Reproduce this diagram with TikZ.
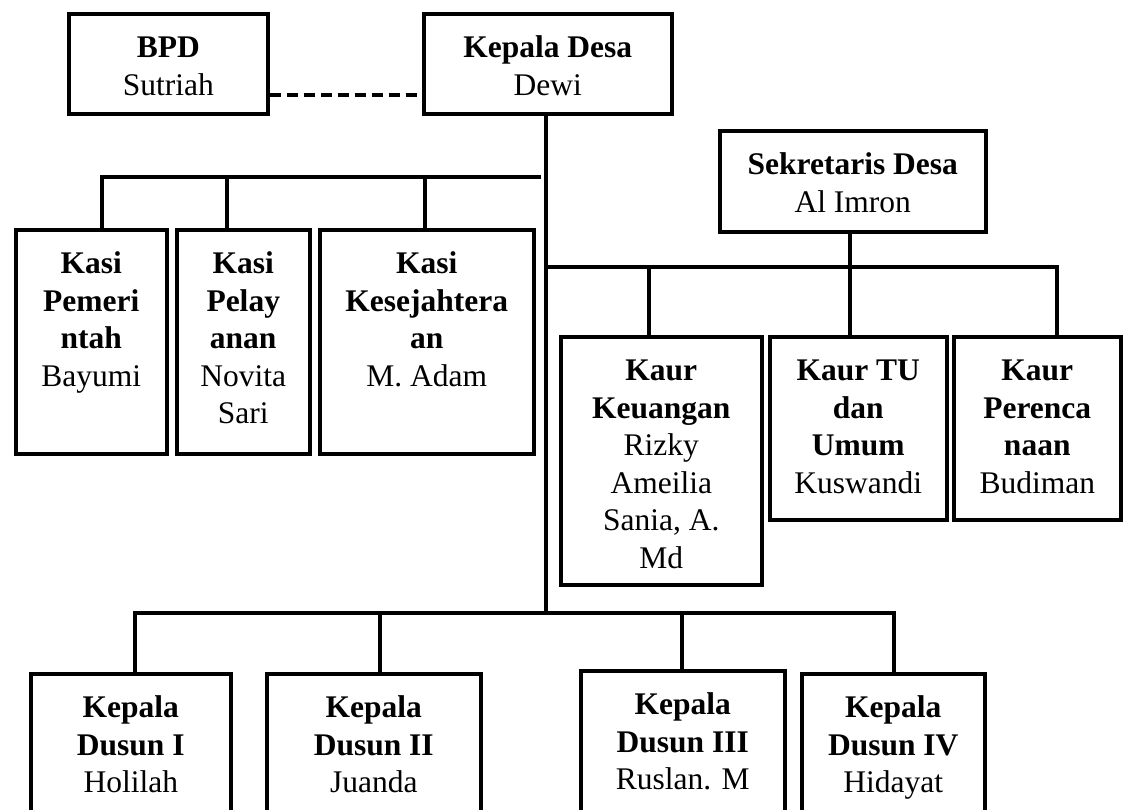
\documentclass[tikz,border=0pt]{standalone}
\usepackage{fontspec}
\setmainfont{Liberation Serif}
\newcommand{\bt}[3]{\parbox[c][#2][t]{#1}{\centering\fontsize{31.5pt}{37.5pt}\selectfont\rule{0pt}{44pt}#3}}
\tikzset{
  orgbox/.style={draw, line width=3.5pt, inner sep=0pt, anchor=north west},
  conn/.style={line width=3.4pt, line join=miter},
  dconn/.style={line width=3.4pt, dash pattern=on 11pt off 6pt}
}
\begin{document}
\begin{tikzpicture}[x=1pt,y=-1pt]
\useasboundingbox (0,0) rectangle (1125,809);
\clip (0,0) rectangle (1125,809);
% top
\node[orgbox] (bpd) at (67,12) {\bt{199pt}{100pt}{\textbf{BPD}\\Sutriah}};
\node[orgbox] (kd) at (422,12) {\bt{248pt}{100pt}{\textbf{Kepala Desa}\\Dewi}};
\node[orgbox] (sek) at (718,129) {\bt{266pt}{101pt}{\textbf{Sekretaris Desa}\\Al Imron}};
% kasi
\node[orgbox] (k1) at (14,228) {\bt{151pt}{224pt}{\textbf{Kasi}\\\textbf{Pemeri}\\\textbf{ntah}\\Bayumi}};
\node[orgbox] (k2) at (175,228) {\bt{133pt}{224pt}{\textbf{Kasi}\\\textbf{Pelay}\\\textbf{anan}\\Novita\\Sari}};
\node[orgbox] (k3) at (318,228) {\bt{214pt}{224pt}{\textbf{Kasi}\\\textbf{Kesejahtera}\\\textbf{an}\\M. Adam}};
% kaur
\node[orgbox] (ku) at (559,335) {\bt{201pt}{248pt}{\textbf{Kaur}\\\textbf{Keuangan}\\Rizky\\Ameilia\\Sania, A.\\Md}};
\node[orgbox] (tu) at (768,335) {\bt{177pt}{183pt}{\textbf{Kaur TU}\\\textbf{dan}\\\textbf{Umum}\\Kuswandi}};
\node[orgbox] (per) at (952,335) {\bt{167pt}{183pt}{\textbf{Kaur}\\\textbf{Perenca}\\\textbf{naan}\\Budiman}};
% dusun
\node[orgbox] (du1) at (29,672) {\bt{200pt}{178pt}{\textbf{Kepala}\\\textbf{Dusun I}\\Holilah}};
\node[orgbox] (du2) at (265,672) {\bt{214pt}{178pt}{\textbf{Kepala}\\\textbf{Dusun II}\\Juanda}};
\node[orgbox] (du3) at (579,669) {\bt{204pt}{181pt}{\textbf{Kepala}\\\textbf{Dusun III}\\Ruslan. M}};
\node[orgbox] (du4) at (800,672) {\bt{183pt}{178pt}{\textbf{Kepala}\\\textbf{Dusun IV}\\Hidayat}};
% junction coordinates
\coordinate (dy) at (0,95);
\coordinate (mb) at (546,613);
\coordinate (j1) at (102,177);
\coordinate (j2) at (227,177);
\coordinate (j3) at (425,177);
\coordinate (jR) at (541,177);
\coordinate (r0) at (546,267);
\coordinate (r1) at (649,267);
\coordinate (r2) at (850,267);
\coordinate (r3) at (1057,267);
\coordinate (d1) at (135,613);
\coordinate (d2) at (380,613);
\coordinate (d3) at (682,613);
\coordinate (d4) at (894,613);
% connectors
\draw[dconn] (bpd.east |- dy) -- (kd.west |- dy);
\draw[conn] (kd.south -| mb) -- (mb);
\draw[conn] (j1 |- k1.north) -- (j1) -- (jR);
\draw[conn] (j2) -- (j2 |- k2.north);
\draw[conn] (j3) -- (j3 |- k3.north);
\draw[conn] (r0) -- (r3) -- (r3 |- per.north);
\draw[conn] (r1) -- (r1 |- ku.north);
\draw[conn] (sek.south -| r2) -- (r2 |- tu.north);
\draw[conn] (d1 |- du1.north) -- (d1) -- (d4) -- (d4 |- du4.north);
\draw[conn] (d2) -- (d2 |- du2.north);
\draw[conn] (d3) -- (d3 |- du3.north);
\end{tikzpicture}
\end{document}
